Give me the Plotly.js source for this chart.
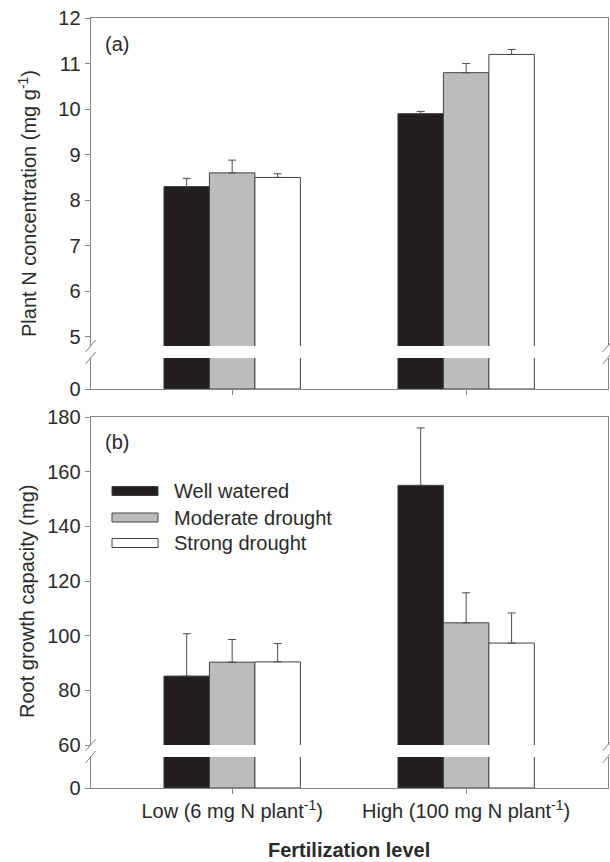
<!DOCTYPE html>
<html>
<head>
<meta charset="utf-8">
<script src="https://cdn.plot.ly/plotly-3.0.1.min.js"></script>
<style>html,body{margin:0;padding:0;background:#fff;}#chart{width:610px;height:862px;}</style>
</head>
<body>
<div id="chart"></div>
<script>
// ---- data ----
const categories = ['Low (6 mg N plant<sup>-1</sup>)', 'High (100 mg N plant<sup>-1</sup>)'];
const series = ['Well watered', 'Moderate drought', 'Strong drought'];

// (a) Plant N concentration (mg g-1)
const nWell = [8.3, 9.9];
const nWellErr = [0.18, 0.05];
const nModerate = [8.6, 10.8];
const nModerateErr = [0.28, 0.2];
const nStrong = [8.5, 11.2];
const nStrongErr = [0.08, 0.11];

// (b) Root growth capacity (mg)
const rgcWell = [85.2, 155.0];
const rgcWellErr = [15.5, 21.0];
const rgcModerate = [90.3, 104.7];
const rgcModerateErr = [8.3, 11.0];
const rgcStrong = [90.4, 97.3];
const rgcStrongErr = [6.7, 11.0];

const nTicks = [5, 6, 7, 8, 9, 10, 11, 12];
const rgcTicks = [60, 80, 100, 120, 140, 160, 180];

// ---- styling ----
const W = 610, H = 862;
const px = v => v / W;
const py = v => 1 - v / H;
const fills = ['#231f20', '#bbbcbe', '#ffffff'];
const outline = '#404040';
const axisCol = '#858585';
const textCol = '#2a2a2a';
const FONT = 'Liberation Sans, Arial, Helvetica, sans-serif';

const xDom = [px(90.6), px(607.7)];
const xRange = [-0.605, 1.605];

const panels = [
  {vals: [nWell, nModerate, nStrong], errs: [nWellErr, nModerateErr, nStrongErr],
   up: {x: 'x', y: 'y'}, low: {x: 'x2', y: 'y2'}},
  {vals: [rgcWell, rgcModerate, rgcStrong], errs: [rgcWellErr, rgcModerateErr, rgcStrongErr],
   up: {x: 'x3', y: 'y3'}, low: {x: 'x4', y: 'y4'}}
];

const traces = [];
panels.forEach(p => {
  ['up', 'low'].forEach(seg => {
    series.forEach((name, i) => {
      traces.push({
        type: 'bar', x: categories, y: p.vals[i], name: name,
        xaxis: p[seg].x, yaxis: p[seg].y,
        marker: {color: fills[i], line: {color: outline, width: 1}},
        error_y: seg === 'up' ? {
          type: 'data', symmetric: false, array: p.errs[i],
          arrayminus: p.errs[i].map(() => 0),
          color: '#4a4a4a', thickness: 1, width: 4
        } : {visible: false},
        showlegend: false, hoverinfo: 'skip'
      });
    });
  });
});

function xax(anchor, side, ticks, labels) {
  return {
    domain: xDom, anchor: anchor, type: 'category', range: xRange,
    side: side, showline: true, linecolor: axisCol, linewidth: 1,
    ticks: ticks ? 'outside' : '', ticklen: 5, tickcolor: axisCol,
    showticklabels: labels, showgrid: false, zeroline: false, fixedrange: true,
    tickfont: {family: FONT, size: 20, color: textCol}
  };
}
function yax(anchor, dom, range, tickvals) {
  return {
    domain: dom, anchor: anchor, range: range, tickvals: tickvals,
    showline: true, mirror: true, linecolor: axisCol, linewidth: 1,
    ticks: 'outside', ticklen: 5, tickcolor: axisCol,
    showgrid: false, zeroline: false, fixedrange: true,
    tickfont: {family: FONT, size: 20, color: textCol}
  };
}

// break marks
const shapes = [];
function slash(x, y) {
  shapes.push({type: 'line', xref: 'paper', yref: 'paper',
    x0: px(x - 5), y0: py(y + 6), x1: px(x + 5), y1: py(y - 6),
    line: {color: axisCol, width: 1}});
}
[346, 358, 745, 757].forEach(y => { slash(90.6, y); slash(607.7, y); });

// legend (panel b)
const legendRows = [491, 517.5, 543];
const annotations = [];
series.forEach((name, i) => {
  shapes.push({type: 'rect', xref: 'paper', yref: 'paper',
    x0: px(112), x1: px(158), y0: py(legendRows[i] + 4.5), y1: py(legendRows[i] - 4.5),
    fillcolor: fills[i], line: {color: outline, width: 1}});
  annotations.push({xref: 'paper', yref: 'paper', x: px(172), y: py(legendRows[i]),
    xanchor: 'left', yanchor: 'middle', showarrow: false, text: name,
    font: {family: FONT, size: 20, color: textCol}});
});

annotations.push(
  {xref: 'paper', yref: 'paper', x: px(103), y: py(44), xanchor: 'left', yanchor: 'middle',
   showarrow: false, text: '(a)', font: {family: FONT, size: 20, color: textCol}},
  {xref: 'paper', yref: 'paper', x: px(103), y: py(442), xanchor: 'left', yanchor: 'middle',
   showarrow: false, text: '(b)', font: {family: FONT, size: 20, color: textCol}},
  {xref: 'paper', yref: 'paper', x: px(28), y: py(204), xanchor: 'center', yanchor: 'middle',
   textangle: -90, showarrow: false, text: 'Plant N concentration (mg g<sup>-1</sup>)',
   font: {family: FONT, size: 20, color: textCol}},
  {xref: 'paper', yref: 'paper', x: px(27), y: py(602), xanchor: 'center', yanchor: 'middle',
   textangle: -90, showarrow: false, text: 'Root growth capacity (mg)',
   font: {family: FONT, size: 20, color: textCol}},
  {xref: 'paper', yref: 'paper', x: px(349), y: py(850), xanchor: 'center', yanchor: 'middle',
   showarrow: false, text: '<b>Fertilization level</b>',
   font: {family: FONT, size: 20, color: textCol}}
);

const layout = {
  width: W, height: H, autosize: false,
  margin: {l: 0, r: 0, t: 0, b: 0},
  paper_bgcolor: '#fff', plot_bgcolor: 'rgba(0,0,0,0)',
  barmode: 'group', bargap: 0.417, bargroupgap: 0,
  showlegend: false,
  font: {family: FONT, size: 20, color: textCol},
  xaxis: xax('y', 'top', false, false),
  xaxis2: xax('y2', 'bottom', true, false),
  xaxis3: xax('y3', 'top', false, false),
  xaxis4: xax('y4', 'bottom', true, true),
  yaxis: yax('x', [py(346), py(18)], [4.8, 12], nTicks),
  yaxis2: yax('x2', [py(389), py(358)], [0, 1], [0]),
  yaxis3: yax('x3', [py(745), py(417)], [60, 180], rgcTicks),
  yaxis4: yax('x4', [py(788), py(757)], [0, 1], [0]),
  shapes: shapes,
  annotations: annotations
};

Plotly.newPlot('chart', traces, layout, {displayModeBar: false, staticPlot: true});
</script>
</body>
</html>
